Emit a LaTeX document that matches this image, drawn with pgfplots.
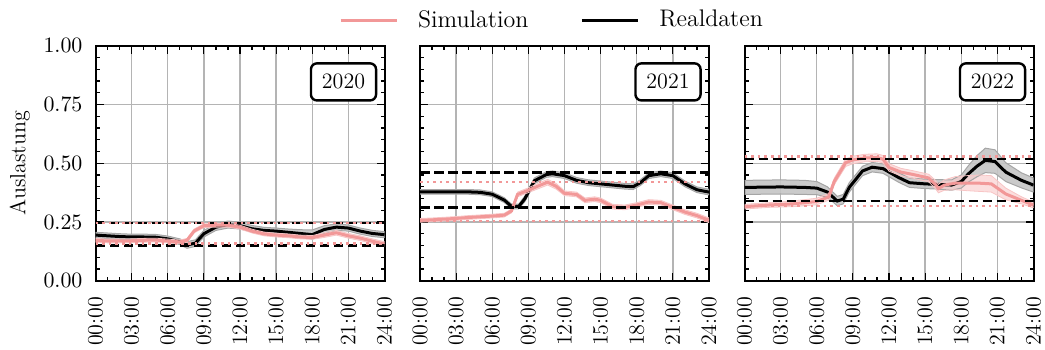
\documentclass[border=0pt]{standalone}
\usepackage{pgfplots}
\usepackage{pgfplotstable}
\pgfplotsset{compat=1.18}
\usepgfplotslibrary{fillbetween}
\definecolor{simc}{RGB}{242,152,152}
\definecolor{simband}{RGB}{250,208,208}
\definecolor{realband}{RGB}{196,196,196}
\definecolor{realedge}{RGB}{165,165,165}
\definecolor{gridc}{RGB}{180,180,180}

% x = hour, y = value, d = half width of band
\pgfplotstableread{
x y d
0 0.194 0.012
1 0.191 0.012
2 0.188 0.012
3 0.186 0.012
4 0.186 0.012
5 0.185 0.012
6 0.178 0.012
7 0.166 0.012
7.6 0.152 0.014
8.3 0.160 0.014
9 0.200 0.014
10 0.228 0.014
11 0.239 0.015
12 0.234 0.014
13 0.221 0.014
14 0.214 0.013
15 0.211 0.013
16 0.206 0.014
17 0.201 0.016
18 0.196 0.020
19 0.218 0.016
20 0.228 0.014
21 0.224 0.013
22 0.211 0.013
23 0.201 0.013
24 0.196 0.013
}\realA
\pgfplotstableread{
x y d
0 0.172 0.008
1 0.169 0.008
2 0.169 0.008
3 0.170 0.008
4 0.172 0.008
5 0.173 0.008
6 0.169 0.008
7 0.165 0.008
7.6 0.172 0.008
8.2 0.212 0.008
9 0.234 0.008
10 0.236 0.008
11 0.236 0.008
12 0.228 0.008
13 0.211 0.008
14 0.199 0.008
15 0.194 0.008
16 0.191 0.008
17 0.186 0.008
18 0.184 0.008
19 0.194 0.010
20 0.204 0.010
21 0.191 0.010
22 0.181 0.010
23 0.168 0.010
24 0.156 0.010
}\simA
\pgfplotstableread{
x y d
0 0.378 0.010
1 0.378 0.010
2 0.378 0.010
3 0.378 0.010
4 0.378 0.010
5 0.376 0.010
6 0.368 0.010
7 0.343 0.010
7.6 0.316 0.010
8.2 0.316 0.010
8.7 0.348 0.012
9.5 0.425 0.012
10.5 0.452 0.012
11 0.455 0.012
12 0.447 0.012
13 0.427 0.012
14 0.417 0.012
15 0.412 0.012
16 0.407 0.012
17 0.402 0.012
17.7 0.400 0.012
18.3 0.417 0.012
19 0.447 0.012
20 0.455 0.012
21 0.447 0.012
22 0.412 0.012
23 0.387 0.012
24 0.377 0.012
}\realB
\pgfplotstableread{
x y d
0 0.257 0.008
1 0.259 0.008
2 0.262 0.008
3 0.265 0.008
4 0.269 0.008
5 0.272 0.008
6 0.275 0.008
7 0.279 0.008
7.6 0.297 0.008
8.1 0.367 0.010
9 0.385 0.010
10 0.407 0.012
10.6 0.419 0.012
11.3 0.402 0.012
12 0.372 0.010
13 0.367 0.010
13.7 0.342 0.010
14.5 0.347 0.010
15 0.342 0.010
16 0.315 0.010
17 0.312 0.010
18 0.322 0.010
19 0.335 0.010
20 0.332 0.010
21 0.312 0.010
22 0.292 0.010
23 0.277 0.010
24 0.257 0.010
}\simB
\pgfplotstableread{
x y d
0 0.397 0.030
3 0.399 0.030
5 0.397 0.030
6 0.394 0.028
6.9 0.377 0.022
7.7 0.339 0.020
8.2 0.347 0.020
8.7 0.397 0.020
9.8 0.467 0.020
10.6 0.483 0.020
11.5 0.477 0.020
12.8 0.439 0.020
13.7 0.417 0.020
15 0.412 0.020
16 0.410 0.020
17.2 0.407 0.022
18 0.422 0.028
18.6 0.455 0.035
19.3 0.487 0.045
20 0.512 0.052
20.8 0.507 0.050
21.7 0.462 0.040
23 0.427 0.032
24 0.407 0.030
}\realC
\pgfplotstableread{
x y d
0 0.315 0.010
2 0.322 0.010
4 0.327 0.012
6 0.337 0.014
7 0.357 0.014
7.45 0.422 0.014
8.4 0.502 0.016
9 0.514 0.016
10 0.522 0.016
11 0.524 0.016
11.5 0.517 0.016
12 0.482 0.016
13 0.462 0.016
14 0.452 0.016
15.3 0.437 0.016
15.9 0.407 0.018
16.1 0.392 0.018
16.6 0.407 0.022
17.5 0.415 0.028
18.5 0.415 0.032
19.5 0.415 0.035
20.5 0.412 0.035
21.7 0.369 0.025
23 0.342 0.015
24 0.322 0.012
}\simC

\tikzset{
  realline/.style={black, line width=1.5pt},
  simline/.style={simc, line width=1.5pt},
  bdash/.style={black, line width=1.2pt, dash pattern=on 4.8pt off 2.2pt},
  pdot/.style={simc, line width=1.3pt, dash pattern=on 1.3pt off 2.0pt},
  yearbox/.style={draw=black, line width=1.2pt, rounded corners=3pt, fill=white,
    inner xsep=5.5pt, inner ysep=5.5pt, anchor=north east, font=\fontsize{11}{13}\selectfont},
}
\pgfplotsset{
  panel/.style={
    scale only axis, width=144.5pt, height=117.5pt,
    anchor=south west,
    xmin=0, xmax=24, ymin=0, ymax=1,
    xtick={0,3,...,24},
    xticklabels={00:00,03:00,06:00,09:00,12:00,15:00,18:00,21:00,24:00},
    x tick label style={rotate=90, anchor=east, xshift=-4.5pt},
    minor x tick num=2,
    ytick={0,0.25,0.5,0.75,1},
    minor y tick num=4,
    tick align=inside,
    xtick pos=both, ytick pos=both,
    major tick length=4pt, minor tick length=2pt,
    every tick/.style={black, line width=0.6pt},
    grid=major, major grid style={gridc, line width=0.7pt},
    axis line style={line width=1pt},
    tick label style={font=\fontsize{11}{13}\selectfont},
    label style={font=\fontsize{11}{13}\selectfont},
    yticklabel style={xshift=-3pt, /pgf/number format/.cd, fixed, fixed zerofill, precision=2},
  },
}

\newcommand{\bands}[2]{%
  \addplot[realedge, line width=0.5pt, name path=ru, forget plot] table[x=x, y expr=\thisrow{y}+\thisrow{d}] {#1};
  \addplot[realedge, line width=0.5pt, name path=rl, forget plot] table[x=x, y expr=\thisrow{y}-\thisrow{d}] {#1};
  \addplot[realband, fill opacity=0.9, forget plot] fill between[of=ru and rl];
  \addplot[realline, forget plot] table[x=x, y=y] {#1};
  \addplot[simband!80!simc, line width=0.4pt, name path=su, forget plot] table[x=x, y expr=\thisrow{y}+\thisrow{d}] {#2};
  \addplot[simband!80!simc, line width=0.4pt, name path=sl, forget plot] table[x=x, y expr=\thisrow{y}-\thisrow{d}] {#2};
  \addplot[simband, fill opacity=0.7, forget plot] fill between[of=su and sl];
  \addplot[simline, forget plot] table[x=x, y=y] {#2};
}

\begin{document}
\begin{tikzpicture}

\begin{axis}[panel, at={(0pt,0pt)}, ylabel={Auslastung}]
\bands{\realA}{\simA}
\addplot[bdash, forget plot] coordinates {(0,0.150) (24,0.150)};
\addplot[bdash, forget plot] coordinates {(0,0.245) (24,0.245)};
\addplot[pdot, forget plot] coordinates {(0,0.159) (24,0.159)};
\addplot[pdot, forget plot] coordinates {(0,0.245) (24,0.245)};
\node[yearbox] at (rel axis cs:0.975,0.93) {2020};
\end{axis}

\begin{axis}[panel, at={(162.25pt,0pt)}, yticklabels={},
  legend style={at={(0.46,1.109)}, anchor=center, draw=none, fill=none,
    font=\fontsize{12}{14}\selectfont, legend columns=2,
    /tikz/every even column/.append style={column sep=24pt}},
  legend image code/.code={\draw[#1] (0pt,0pt) -- (28pt,0pt); \path (36pt,0pt);},
  ]
\addlegendimage{simline}
\addlegendentry{Simulation}
\addlegendimage{realline}
\addlegendentry{Realdaten}
\bands{\realB}{\simB}
\addplot[bdash, forget plot] coordinates {(0,0.312) (24,0.312)};
\addplot[bdash, forget plot] coordinates {(0,0.461) (24,0.461)};
\addplot[pdot, forget plot] coordinates {(0,0.254) (24,0.254)};
\addplot[pdot, forget plot] coordinates {(0,0.420) (24,0.420)};
\node[yearbox] at (rel axis cs:0.975,0.93) {2021};
\end{axis}

\begin{axis}[panel, at={(324.5pt,0pt)}, yticklabels={}]
\bands{\realC}{\simC}
\addplot[bdash, forget plot] coordinates {(0,0.339) (24,0.339)};
\addplot[bdash, forget plot] coordinates {(0,0.517) (24,0.517)};
\addplot[pdot, forget plot] coordinates {(0,0.318) (24,0.318)};
\addplot[pdot, forget plot] coordinates {(0,0.528) (24,0.528)};
\node[yearbox] at (rel axis cs:0.975,0.93) {2022};
\end{axis}

\pgfresetboundingbox
\path[use as bounding box] (-47.75pt,-34.15pt) rectangle (474.75pt,140.35pt);
\end{tikzpicture}
\end{document}
